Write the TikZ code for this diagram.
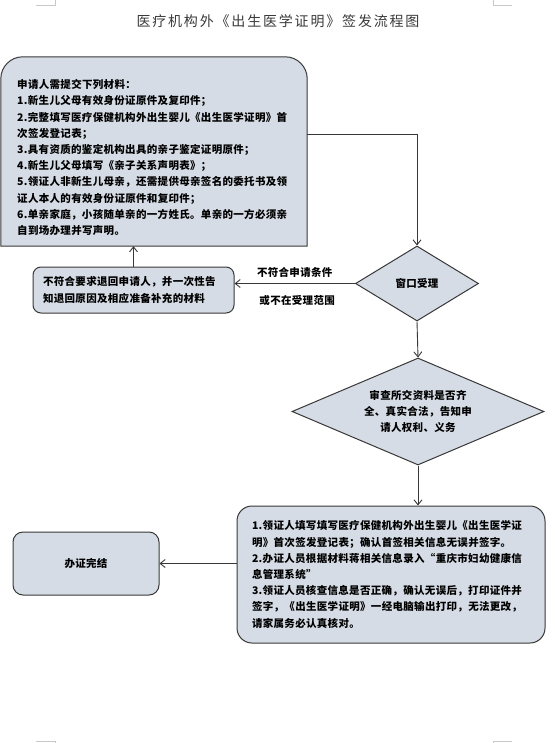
\documentclass[tikz,border=0pt]{standalone}
\usepackage{fontspec}
\newfontfamily\cjk[LetterSpace=3]{Noto Sans CJK SC}
\newfontfamily\cjktitle[LetterSpace=13]{Noto Sans CJK SC}
\usetikzlibrary{shapes.geometric,arrows.meta}
\definecolor{boxfill}{HTML}{D6DCE5}
\definecolor{boxline}{HTML}{383838}
\definecolor{titlegray}{HTML}{3A3A3A}
\definecolor{cropgray}{HTML}{C8C8C8}
\begin{document}
\begin{tikzpicture}[x=1pt,y=-1pt,
  shapebox/.style={draw=boxline, fill=boxfill, line width=1pt, inner sep=0pt},
  body/.style={font=\cjk\bfseries\fontsize{10.5}{16.2}\selectfont, text=black},
  rbox/.style={shapebox, body, rectangle, rounded corners=#1, align=left},
  dia/.style={shapebox, body, diamond, align=center},
  conn/.style={draw=boxline, line width=0.9pt, -{Straight Barb[length=5pt,width=8pt]}},
  lbl/.style={body, inner sep=0pt},
  cropmark/.style={draw=cropgray, line width=0.8pt},
]
\useasboundingbox (0,0) rectangle (554,743);
\fill[white] (0,0) rectangle (554,743);

% crop marks
\draw[cropmark] (36,5) -- (55,5) -- (55,0);
\draw[cropmark] (512,5) -- (493,5) -- (493,0);
\draw[cropmark] (36,741) -- (55,741) -- (55,743);
\draw[cropmark] (512,741) -- (493,741) -- (493,743);

% title
\node[font=\cjktitle\fontsize{14}{14}\selectfont, text=titlegray, inner sep=0pt] (title) at (278,21)
  {医疗机构外《出生医学证明》签发流程图};

% top materials box
\node[inner sep=0pt, minimum width=306pt, minimum height=189pt] (mat) at (154,151.5) {};
\filldraw[shapebox] (mat.south west) -- ([yshift=-22pt]mat.north west)
  arc[start angle=180, end angle=90, radius=22pt]
  -- ([xshift=-22pt]mat.north east)
  arc[start angle=90, end angle=0, radius=22pt]
  -- (mat.south east) -- cycle;
\node[body, inner sep=0pt, align=left, anchor=west] (mattxt) at (17,157.5) {%
申请人需提交下列材料：\\
1.新生儿父母有效身份证原件及复印件；\\
2.完整填写医疗保健机构外出生婴儿《出生医学证明》首\\
次签发登记表；\\
3.具有资质的鉴定机构出具的亲子鉴定证明原件；\\
4.新生儿父母填写《亲子关系声明表》；\\
5.领证人非新生儿母亲，还需提供母亲签名的委托书及领\\
证人本人的有效身份证原件和复印件；\\
6.单亲家庭，小孩随单亲的一方姓氏。单亲的一方必须亲\\
自到场办理并写声明。};

% return box
\node[rbox=8pt, minimum width=201pt, minimum height=46pt, text width=181pt] (rej) at (133.5,290)
  {不符合要求退回申请人，并一次性告\\知退回原因及相应准备补充的材料};

% window diamond
\node[dia, minimum width=123pt, minimum height=75pt] (win) at (417,283.5) {窗口受理};

% check diamond
\node[dia, aspect=2.4, minimum width=252pt, minimum height=107pt] (chk) at (418,411.5)
  {审查所交资料是否齐\\全、真实合法，告知申\\请人权利、义务};

% processing box
\node[rbox=15pt, minimum width=308pt, minimum height=137pt, text width=278pt] (proc) at (391,574.5) {%
1.领证人填写填写医疗保健机构外出生婴儿《出生医学证\\
明》首次签发登记表；确认首签相关信息无误并签字。\\
2.办证人员根据材料蒋相关信息录入“重庆市妇幼健康信\\
息管理系统”\\
3.领证人员核查信息是否正确，确认无误后，打印证件并\\
签字，《出生医学证明》一经电脑输出打印，无法更改，\\
请家属务必认真核对。};

% done box
\node[rbox=10pt, align=center, minimum width=146pt, minimum height=63pt] (done) at (86,563.5) {办证完结};

% connectors
\draw[conn] ([yshift=17.5pt]mat.east) -| (win.north);
\draw[conn] (win.west) -- (win.west -| rej.east)
  node[lbl, pos=0.5, above=6pt] (lblA) {不符合申请条件}
  node[lbl, pos=0.48, below=11pt] (lblB) {或不在受理范围};
\draw[conn] (rej.north) -- (rej.north |- mat.south);
\draw[conn] (win.south) -- (chk.north);
\draw[conn] (chk.south) -- (chk.south |- proc.north);
\draw[conn] (proc.west |- done.east) -- (done.east);
\end{tikzpicture}
\end{document}
